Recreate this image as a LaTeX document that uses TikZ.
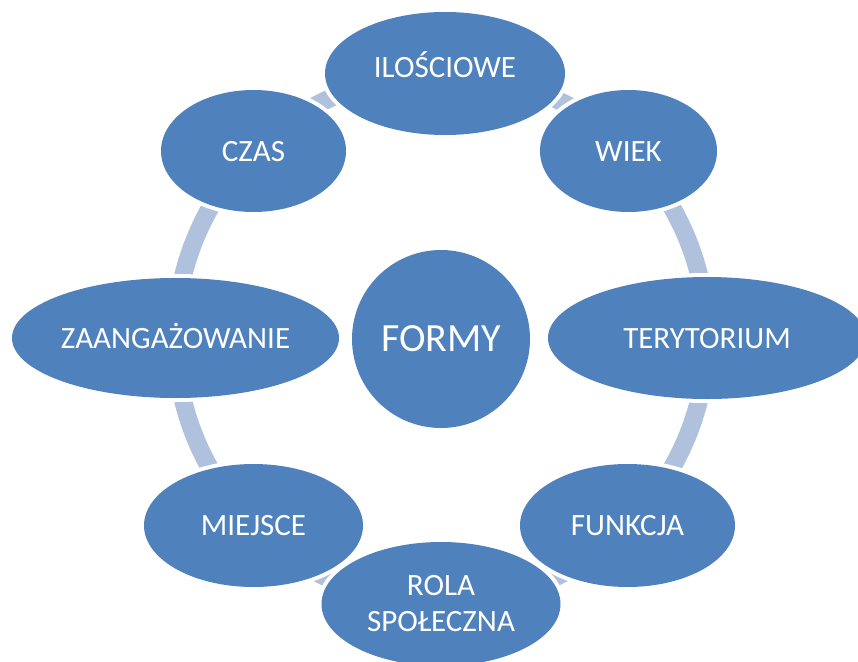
\documentclass[tikz,border=0pt]{standalone}
\usepackage{fontspec}
\setmainfont{Carlito}
\usepackage{tikz}
\usetikzlibrary{shapes.geometric,backgrounds}
\definecolor{formblue}{RGB}{79,129,189}
\definecolor{ringblue}{RGB}{176,193,221}
\newcommand{\lbl}{\fontsize{31}{36}\selectfont}
\newcommand{\hublbl}{\fontsize{40}{46}\selectfont}

\begin{document}
\begin{tikzpicture}[
    x=1pt, y=-1pt,
    bubble/.style={ellipse, fill=formblue, text=white, inner sep=0pt,
      font=\lbl, text height=20pt, text depth=0pt,
      preaction={draw=white, line width=8pt}},
    ring/.style={draw=ringblue, line width=18pt, bend left=22.5, looseness=0.885}
    ]
    \useasboundingbox (0,0) rectangle (858,661);
    \node[circle, fill=formblue, text=white, minimum size=178pt, inner sep=0pt, font=\hublbl] (formy) at (441,339) {FORMY};
    \node[bubble, minimum width=240pt, minimum height=123pt, text depth=13pt] (ilosc) at (445,73.5) {ILOŚCIOWE};
    \node[bubble, minimum width=177pt, minimum height=122pt] (wiek) at (628.5,151) {WIEK};
    \node[bubble, minimum width=318pt, minimum height=122pt] (teryt) at (707,338) {TERYTORIUM};
    \node[bubble, minimum width=215pt, minimum height=123pt] (funkcja) at (627.5,525.5) {FUNKCJA};
    \node[bubble, minimum width=239pt, minimum height=124pt, align=center, text height=, text depth=] (rola) at (441,604) {ROLA\\SPOŁECZNA};
    \node[bubble, minimum width=219pt, minimum height=123pt] (miejsce) at (253.5,525.5) {MIEJSCE};
    \node[bubble, minimum width=327pt, minimum height=120pt] (zaang) at (175.5,338) {ZAANGAŻOWANIE};
    \node[bubble, minimum width=185pt, minimum height=122pt] (czas) at (253.5,151) {CZAS};
    % ring behind the bubbles
    \begin{scope}[on background layer]
    \draw[ring] (ilosc.center) to (wiek.center);
    \draw[ring] (wiek.center) to (teryt.center);
    \draw[ring] (teryt.center) to (funkcja.center);
    \draw[ring] (funkcja.center) to (rola.center);
    \draw[ring] (rola.center) to (miejsce.center);
    \draw[ring] (miejsce.center) to (zaang.center);
    \draw[ring] (zaang.center) to (czas.center);
    \draw[ring] (czas.center) to (ilosc.center);
    \end{scope}
  \end{tikzpicture}
\end{document}
